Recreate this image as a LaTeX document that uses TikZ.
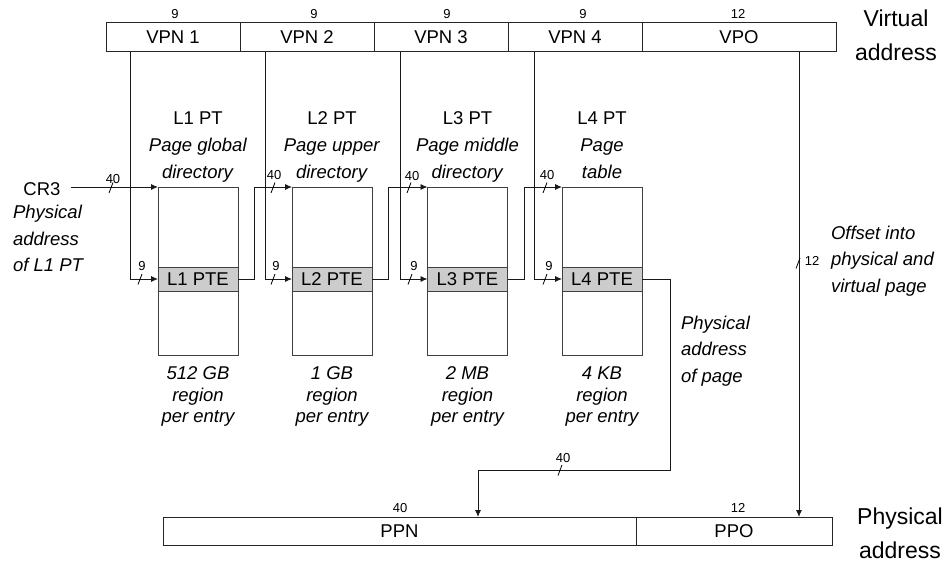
\documentclass[tikz,border=0pt]{standalone}
\usepackage{fontspec}
\setmainfont{Liberation Sans}
\usetikzlibrary{arrows.meta}
\begin{document}
\begin{tikzpicture}[x=1pt,y=-1pt,
  every node/.style={inner sep=0pt, outer sep=0pt},
  big/.style={font=\fontsize{18.5}{27}\selectfont},
  huge/.style={font=\fontsize{23}{34}\selectfont},
  fld/.style={draw=black!85, line width=0.9pt, minimum height=29pt, big},
  bits/.style={font=\fontsize{13}{14}\selectfont},
  tbl/.style={draw=black!75, line width=0.9pt, minimum width=80pt, minimum height=168pt},
  pte/.style={draw=black!75, fill=black!20, line width=0.9pt, minimum width=80pt, minimum height=24pt, big},
  ttl/.style={big, align=center, anchor=north},
  reg/.style={font=\itshape\fontsize{18.5}{21.5}\selectfont, align=center, anchor=north},
  note/.style={font=\itshape\fontsize{18.5}{26.7}\selectfont, align=left, anchor=west},
  conn/.style={draw=black!90, line width=0.9pt},
  arr/.style={conn, -{Latex[length=7pt,width=6pt]}},
  bus/.pic={\draw[line width=0.8pt] (-2,5.5) -- (2,-5);}
]
\useasboundingbox (0,0) rectangle (949,573);

% virtual address
\node[fld, minimum width=134pt] (vpn1) at (173,37) {VPN 1};
\node[fld, minimum width=134pt] (vpn2) at (307,37) {VPN 2};
\node[fld, minimum width=134pt] (vpn3) at (441,37) {VPN 3};
\node[fld, minimum width=134pt] (vpn4) at (575,37) {VPN 4};
\node[fld, minimum width=194pt] (vpo) at (739,37) {VPO};
\node[bits] (b1) at (175,14) {9};
\node[bits] (b2) at (314,14) {9};
\node[bits] (b3) at (447,14) {9};
\node[bits] (b4) at (583,14) {9};
\node[bits] (b5) at (738,14) {12};
\node[huge, align=center] (va) at (896,35) {Virtual\\address};

% page tables
\foreach \i/\x in {1/198, 2/332, 3/467.5, 4/602} {
  \node[tbl] (l\i box) at (\x,271) {};
  \node[pte] (l\i pte) at (\x,279) {L\i\ PTE};
}
\node[ttl] (t1) at (198,111.5) {L1 PT\\\textit{Page global}\\\textit{directory}};
\node[ttl] (t2) at (332,111.5) {L2 PT\\\textit{Page upper}\\\textit{directory}};
\node[ttl] (t3) at (467.5,111.5) {L3 PT\\\textit{Page middle}\\\textit{directory}};
\node[ttl] (t4) at (602,111.5) {L4 PT\\\textit{Page}\\\textit{table}};
\node[reg] (r1) at (198,367) {512 GB\\region\\per entry};
\node[reg] (r2) at (332,367) {1 GB\\region\\per entry};
\node[reg] (r3) at (467.5,367) {2 MB\\region\\per entry};
\node[reg] (r4) at (602,367) {4 KB\\region\\per entry};

% CR3
\node[big] (cr3) at (42,189) {CR3};
\node[note] (cr3n) at (13,238.5) {Physical\\address\\of L1 PT};
\draw[arr] ([xshift=10pt]cr3.east |- l1box.north west) -- (l1box.north west);
\pic at (111,187.5) {bus};
\node[bits] (c40) at (113,179) {40};

% VPN lines
\draw[arr] ([xshift=24pt]vpn1.south west) |- (l1pte.west);
\draw[arr] ([xshift=25pt]vpn2.south west) |- (l2pte.west);
\draw[arr] ([xshift=26pt]vpn3.south west) |- (l3pte.west);
\draw[arr] ([xshift=26pt]vpn4.south west) |- (l4pte.west);
\pic at (140,279) {bus};  \node[bits] (n1) at (142,266) {9};
\pic at (273,279) {bus};  \node[bits] (n2) at (276,266) {9};
\pic at (410,279) {bus};  \node[bits] (n3) at (414,266) {9};
\pic at (545,279) {bus};  \node[bits] (n4) at (549,266) {9};

% PTE to next table
\draw[arr] (l1pte.east) -- ++(16,0) |- (l2box.north west);
\draw[arr] (l2pte.east) -- ++(16,0) |- (l3box.north west);
\draw[arr] (l3pte.east) -- ++(16.5,0) |- (l4box.north west);
\pic at (273,187.5) {bus};  \node[bits] (m1) at (274,175) {40};
\pic at (409,187.5) {bus};  \node[bits] (m2) at (412,176) {40};
\pic at (545,187.5) {bus};  \node[bits] (m3) at (547,175) {40};

% physical address
\node[fld, minimum width=473pt, minimum height=28pt] (ppn) at (399.5,531) {PPN};
\node[fld, minimum width=196pt, minimum height=28pt] (ppo) at (734,531) {PPO};
\node[bits] (p1) at (400,508) {40};
\node[bits] (p2) at (738,508) {12};
\node[huge, align=center] (pa) at (900,533) {Physical\\address};

% L4 PTE to PPN
\draw[arr] (l4pte.east) -- ++(28,0) -- ++(0,191) -| ([xshift=78.5pt]ppn.north);
\pic at (560,470) {bus};  \node[bits] (q1) at (563,458) {40};
\node[note] (pgn) at (681,351) {Physical\\address\\of page};

% VPO to PPO
\draw[arr] ([xshift=60pt]vpo.south) -- ([xshift=60pt]vpo.south |- ppo.north);
\pic at (798,263) {bus};  \node[bits] (o1) at (812,261) {12};
\node[note] (off) at (831,261) {Offset into\\physical and\\virtual page};
\end{tikzpicture}
\end{document}
